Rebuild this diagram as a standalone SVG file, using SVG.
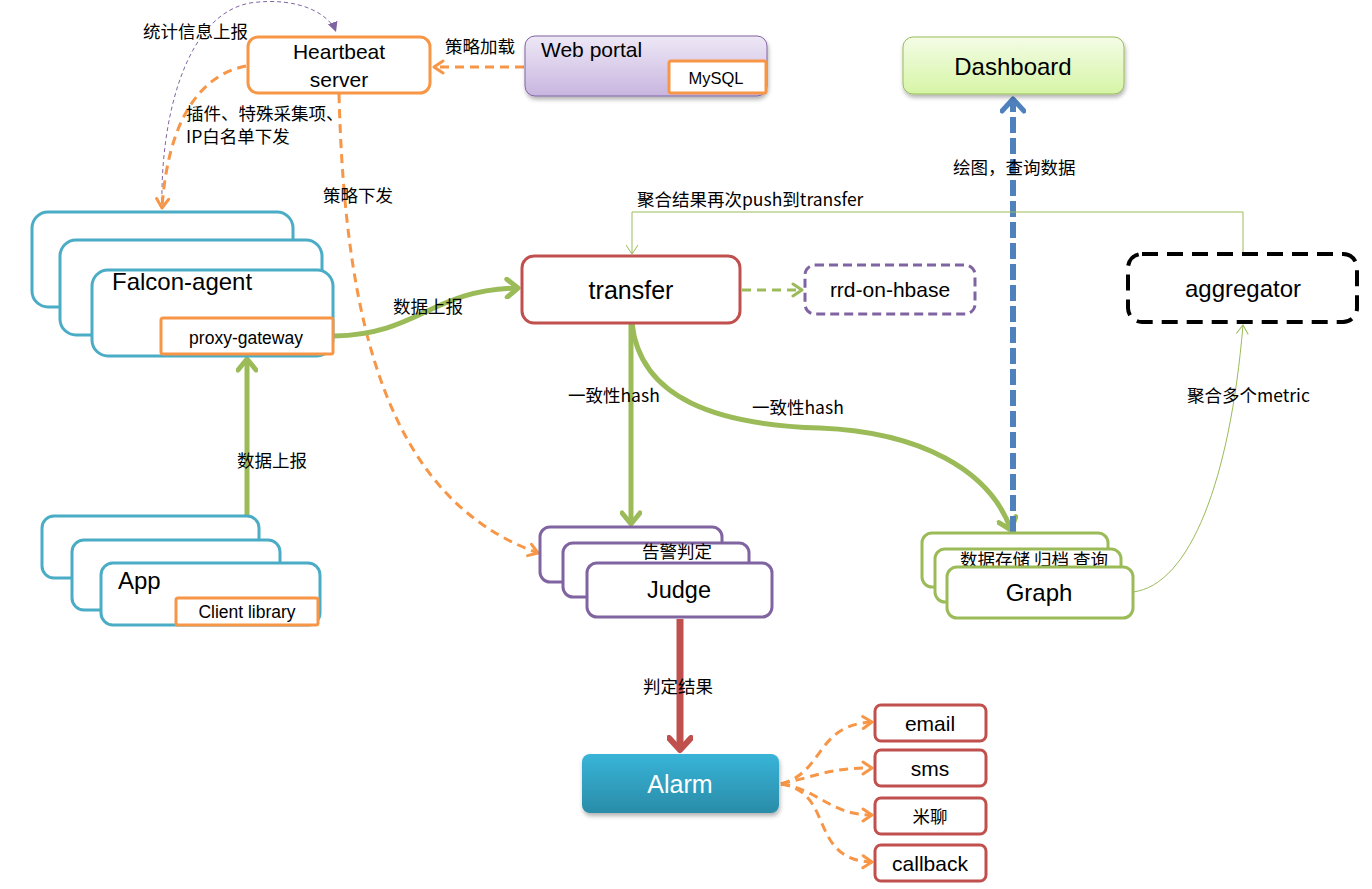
<svg xmlns="http://www.w3.org/2000/svg" width="1372" height="889" viewBox="0 0 1372 889">
<defs>
<style>
.t{font-family:"Liberation Sans","Noto Sans CJK SC",sans-serif;fill:#000}
.c{font-family:"Noto Sans CJK SC","Liberation Sans",sans-serif;font-size:17.5px;fill:#000}
.teal{fill:#fff;stroke:#4BACC6;stroke-width:3}
.org{fill:#fff;stroke:#F79646;stroke-width:3}
.pur{fill:#fff;stroke:#8064A2;stroke-width:3}
.grn{fill:#fff;stroke:#9BBB59;stroke-width:3}
.red{fill:#fff;stroke:#C0504D;stroke-width:3}
.od{fill:none;stroke:#F79646;stroke-width:3;stroke-dasharray:9 6}
.gt{fill:none;stroke:#9BBB59;stroke-width:5}
.thin{fill:none;stroke:#9BBB59;stroke-width:1}
</style>
<linearGradient id="gWeb" x1="0" y1="0" x2="0" y2="1"><stop offset="0" stop-color="#EEE8F6"/><stop offset="1" stop-color="#C8B5DF"/></linearGradient>
<linearGradient id="gDash" x1="0" y1="0" x2="0" y2="1"><stop offset="0" stop-color="#F4FCE6"/><stop offset="1" stop-color="#D6F5A6"/></linearGradient>
<linearGradient id="gAlarm" x1="0" y1="0" x2="0" y2="1"><stop offset="0" stop-color="#38B4D8"/><stop offset="1" stop-color="#2A8CA8"/></linearGradient>
<filter id="sh" x="-10%" y="-20%" width="120%" height="150%"><feDropShadow dx="1" dy="3" stdDeviation="2" flood-color="#000" flood-opacity="0.3"/></filter>
<marker id="mO" viewBox="0 0 14 16" markerWidth="14" markerHeight="16" refX="11" refY="8" orient="auto" markerUnits="userSpaceOnUse"><path d="M2,2 L11,8 L2,14" fill="none" stroke="#F79646" stroke-width="3" stroke-linecap="round" stroke-linejoin="round"/></marker>
<marker id="mG" viewBox="0 0 18 22" markerWidth="18" markerHeight="22" refX="14" refY="11" orient="auto" markerUnits="userSpaceOnUse"><path d="M3,2 L14,11 L3,20" fill="none" stroke="#9BBB59" stroke-width="5" stroke-linecap="round" stroke-linejoin="round"/></marker>
<marker id="mGs" viewBox="0 0 14 16" markerWidth="14" markerHeight="16" refX="11" refY="8" orient="auto" markerUnits="userSpaceOnUse"><path d="M2,2 L11,8 L2,14" fill="none" stroke="#9BBB59" stroke-width="3" stroke-linecap="round" stroke-linejoin="round"/></marker>
<marker id="mGt" viewBox="0 0 12 14" markerWidth="12" markerHeight="14" refX="10" refY="7" orient="auto" markerUnits="userSpaceOnUse"><path d="M1,1 L10,7 L1,13" fill="none" stroke="#9BBB59" stroke-width="1"/></marker>
<marker id="mB" viewBox="0 0 20 26" markerWidth="20" markerHeight="26" refX="15" refY="13" orient="auto" markerUnits="userSpaceOnUse"><path d="M3,2 L15,13 L3,24" fill="none" stroke="#4F81BD" stroke-width="5" stroke-linecap="round" stroke-linejoin="round"/></marker>
<marker id="mR" viewBox="0 0 20 26" markerWidth="20" markerHeight="26" refX="15" refY="13" orient="auto" markerUnits="userSpaceOnUse"><path d="M3,2 L15,13 L3,24" fill="none" stroke="#C0504D" stroke-width="6" stroke-linecap="round" stroke-linejoin="round"/></marker>
<marker id="mP" viewBox="0 0 12 12" markerWidth="12" markerHeight="12" refX="10" refY="6" orient="auto" markerUnits="userSpaceOnUse"><path d="M0,1 L10,6 L0,11 Z" fill="#8064A2"/></marker>
</defs>
<rect width="1372" height="889" fill="#fff"/>

<g id="connectors">
<path d="M162,208 C160,120 185,15 250,3 C300,-4 330,15 336,32" fill="none" stroke="#8064A2" stroke-width="1" stroke-dasharray="4 3" marker-end="url(#mP)"/>
<path class="od" d="M246,66 C200,75 168,120 162,208" marker-end="url(#mO)"/>
<path class="od" d="M524,67 L434,67" marker-end="url(#mO)"/>
<path class="od" d="M339,94 C345,330 390,500 538,553" marker-end="url(#mO)"/>
<path class="gt" d="M334,336 C420,334 430,290 518,288" marker-end="url(#mG)"/>
<path class="gt" d="M247,597 L247,359" marker-end="url(#mG)"/>
<path class="gt" d="M631,323 L631,524" marker-end="url(#mG)"/>
<path class="gt" d="M632,323 C640,400 720,425 820,428 C920,432 990,470 1011,530" marker-end="url(#mG)"/>
<path d="M742,290 L802,290" fill="none" stroke="#9BBB59" stroke-width="3" stroke-dasharray="9 6" marker-end="url(#mGs)"/>
<path d="M1013,532 L1013,99" fill="none" stroke="#4F81BD" stroke-width="6" stroke-dasharray="16 5" marker-end="url(#mB)"/>
<path class="thin" d="M1243,253 L1243,212 L632,212 L632,254" marker-end="url(#mGt)"/>
<path class="thin" d="M1133,592 C1190,585 1230,480 1243,325" marker-end="url(#mGt)"/>
<path d="M680,619 L680,750" fill="none" stroke="#C0504D" stroke-width="7" marker-end="url(#mR)"/>
<path class="od" d="M781,784 C825,772 815,725 872,722" marker-end="url(#mO)"/>
<path class="od" d="M781,784 C820,775 830,768 872,768" marker-end="url(#mO)"/>
<path class="od" d="M781,784 C820,790 830,815 872,815" marker-end="url(#mO)"/>
<path class="od" d="M781,784 C835,792 808,860 872,862" marker-end="url(#mO)"/>
</g>

<g id="labels">
<text class="c" x="143" y="38">统计信息上报</text>
<text class="c" font-size="14.5"><tspan x="186" y="120">插件、特殊采集项、</tspan><tspan x="186" y="142.5">IP白名单下发</tspan></text>
<text class="c" x="445" y="53">策略加载</text>
<text class="c" x="323" y="202">策略下发</text>
<text class="c" x="393" y="313">数据上报</text>
<text class="c" x="237" y="467">数据上报</text>
<text class="c" x="637" y="206">聚合结果再次push到transfer</text>
<text class="c" x="953" y="174">绘图，查询数据</text>
<text class="c" x="568" y="402">一致性hash</text>
<text class="c" x="752" y="414">一致性hash</text>
<text class="c" x="1187" y="402">聚合多个metric</text>
<text class="c" x="643" y="693">判定结果</text>
</g>

<g id="heartbeat">
<rect class="org" x="248" y="37" width="182" height="56" rx="10"/>
<text class="t" x="339" y="59" font-size="21" text-anchor="middle">Heartbeat</text>
<text class="t" x="339" y="87" font-size="21" text-anchor="middle">server</text>
</g>

<g id="webportal">
<rect x="525" y="36" width="242" height="60" rx="10" fill="url(#gWeb)" stroke="#8064A2" stroke-width="1" filter="url(#sh)"/>
<text class="t" x="541" y="57" font-size="21">Web portal</text>
<rect class="org" x="669" y="61" width="97" height="32" rx="2"/>
<text class="t" x="716" y="84" font-size="16.5" text-anchor="middle">MySQL</text>
</g>

<g id="dashboard">
<rect x="903" y="37" width="221" height="57" rx="10" fill="url(#gDash)" stroke="#9BBB59" stroke-width="1" filter="url(#sh)"/>
<text class="t" x="1013" y="75" font-size="24" text-anchor="middle">Dashboard</text>
</g>

<g id="agent">
<rect class="teal" x="32" y="212" width="261" height="95" rx="16"/>
<rect class="teal" x="60" y="240" width="262" height="95" rx="16"/>
<rect class="teal" x="92" y="270" width="241" height="86" rx="16"/>
<text class="t" x="112" y="290" font-size="24">Falcon-agent</text>
<rect class="org" x="161" y="318" width="172" height="36" rx="2"/>
<text class="t" x="246" y="344" font-size="17.5" text-anchor="middle">proxy-gateway</text>
</g>

<g id="app">
<rect class="teal" x="42" y="516" width="217" height="62" rx="12"/>
<rect class="teal" x="72" y="540" width="208" height="70" rx="12"/>
<rect class="teal" x="101" y="563" width="219" height="62" rx="12"/>
<text class="t" x="118" y="589" font-size="24">App</text>
<rect class="org" x="176" y="598" width="142" height="27" rx="2"/>
<text class="t" x="247" y="618" font-size="17.5" text-anchor="middle">Client library</text>
</g>

<g id="transfer">
<rect class="red" x="522" y="256" width="218" height="67" rx="12"/>
<text class="t" x="631" y="299" font-size="25" text-anchor="middle">transfer</text>
</g>

<g id="rrd">
<rect x="805" y="265" width="170" height="49" rx="10" fill="#fff" stroke="#8064A2" stroke-width="3" stroke-dasharray="9 5"/>
<text class="t" x="890" y="297" font-size="21" text-anchor="middle">rrd-on-hbase</text>
</g>

<g id="aggregator">
<rect x="1128" y="254" width="229" height="68" rx="14" fill="#fff" stroke="#000" stroke-width="4" stroke-dasharray="16 9"/>
<text class="t" x="1243" y="297" font-size="24" text-anchor="middle">aggregator</text>
</g>

<g id="judge">
<rect class="pur" x="540" y="527" width="182" height="55" rx="10"/>
<rect class="pur" x="563" y="543" width="186" height="54" rx="10"/>
<text class="c" x="677" y="558" font-size="16" text-anchor="middle">告警判定</text>
<rect class="pur" x="587" y="563" width="185" height="54" rx="10"/>
<text class="t" x="679" y="598" font-size="23.5" text-anchor="middle">Judge</text>
</g>

<g id="graph">
<rect class="grn" x="922" y="533" width="186" height="54" rx="10"/>
<rect class="grn" x="935" y="549" width="186" height="53" rx="10"/>
<text class="c" x="1034" y="566" font-size="17.5" text-anchor="middle">数据存储 归档 查询</text>
<rect class="grn" x="947" y="567" width="186" height="51" rx="10"/>
<text class="t" x="1039" y="601" font-size="24" text-anchor="middle">Graph</text>
</g>

<g id="alarm">
<rect x="582" y="754" width="197" height="59" rx="8" fill="url(#gAlarm)" filter="url(#sh)"/>
<text x="680" y="793" font-family="Liberation Sans,sans-serif" font-size="25" fill="#fff" text-anchor="middle">Alarm</text>
</g>

<g id="email"><rect class="red" x="875" y="705" width="111" height="36" rx="6"/><text class="t" x="930" y="731" font-size="21" text-anchor="middle">email</text></g>
<g id="sms"><rect class="red" x="875" y="750" width="111" height="36" rx="6"/><text class="t" x="930" y="776" font-size="21" text-anchor="middle">sms</text></g>
<g id="miliao"><rect class="red" x="875" y="798" width="111" height="36" rx="6"/><text class="c" x="930" y="823" font-size="20" text-anchor="middle">米聊</text></g>
<g id="callback"><rect class="red" x="875" y="845" width="111" height="36" rx="6"/><text class="t" x="930" y="871" font-size="21" text-anchor="middle">callback</text></g>
</svg>
